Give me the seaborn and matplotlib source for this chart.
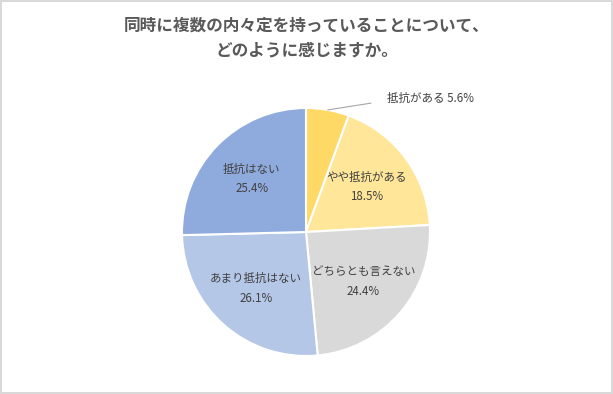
import numpy as np
import matplotlib
matplotlib.use("Agg")
import matplotlib.pyplot as plt
import seaborn as sns

# data
categories = ["抵抗がある", "やや抵抗がある", "どちらとも言えない", "あまり抵抗はない", "抵抗はない"]
shares = [5.6, 18.5, 24.4, 26.1, 25.4]
colors = ["#FFD966", "#FFE699", "#D9D9D9", "#B4C7E7", "#8FAADC"]
title_text = "同時に複数の内々定を持っていることについて、\nどのように感じますか。"

sns.set_theme(style="white")
plt.rcParams["font.family"] = ["Noto Sans CJK JP", "DejaVu Sans"]

fig = plt.figure(figsize=(6.13, 3.94), dpi=100)
fig.patch.set_edgecolor("#D9D9D9")
fig.patch.set_linewidth(1.5)

# pie centre ~ (306, 232) px, radius ~124 px
W, H = 613, 394
cx, cy, r = 306, 232, 124
ax = fig.add_axes([(cx - r) / W, (H - cy - r) / H, 2 * r / W, 2 * r / H])

labels = [f"{c}\n{v}%" for c, v in zip(categories, shares)]
wedges, texts = ax.pie(shares, labels=labels, colors=colors, startangle=90,
                       counterclock=False, labeldistance=0.61,
                       wedgeprops=dict(edgecolor="white", linewidth=1.5),
                       textprops=dict(fontsize=8.3, color="#404040", linespacing=1.65))
for t in texts:
    t.set_ha("center")
    t.set_va("center")
ax.set_xlim(-1, 1)
ax.set_ylim(-1, 1)
ax.set_aspect("equal")

# small slice gets an outside label with a leader line
texts[0].set_visible(False)
w0 = wedges[0]
mid = np.deg2rad((w0.theta1 + w0.theta2) / 2)
ax.annotate(f"{categories[0]} {shares[0]}%", xy=(np.cos(mid), np.sin(mid)),
            xytext=(0.65, 1.08), textcoords="data", fontsize=8.3, color="#404040",
            ha="left", va="center", annotation_clip=False,
            arrowprops=dict(arrowstyle="-", color="#A6A6A6", lw=0.8,
                            shrinkA=9, shrinkB=0, relpos=(0, 0.3)))

fig.text(0.5, 1 - 38 / H, title_text, ha="center", va="center", fontsize=12,
         fontweight="bold", color="#595959", linespacing=1.5)

fig.savefig("out.png", dpi=100)
